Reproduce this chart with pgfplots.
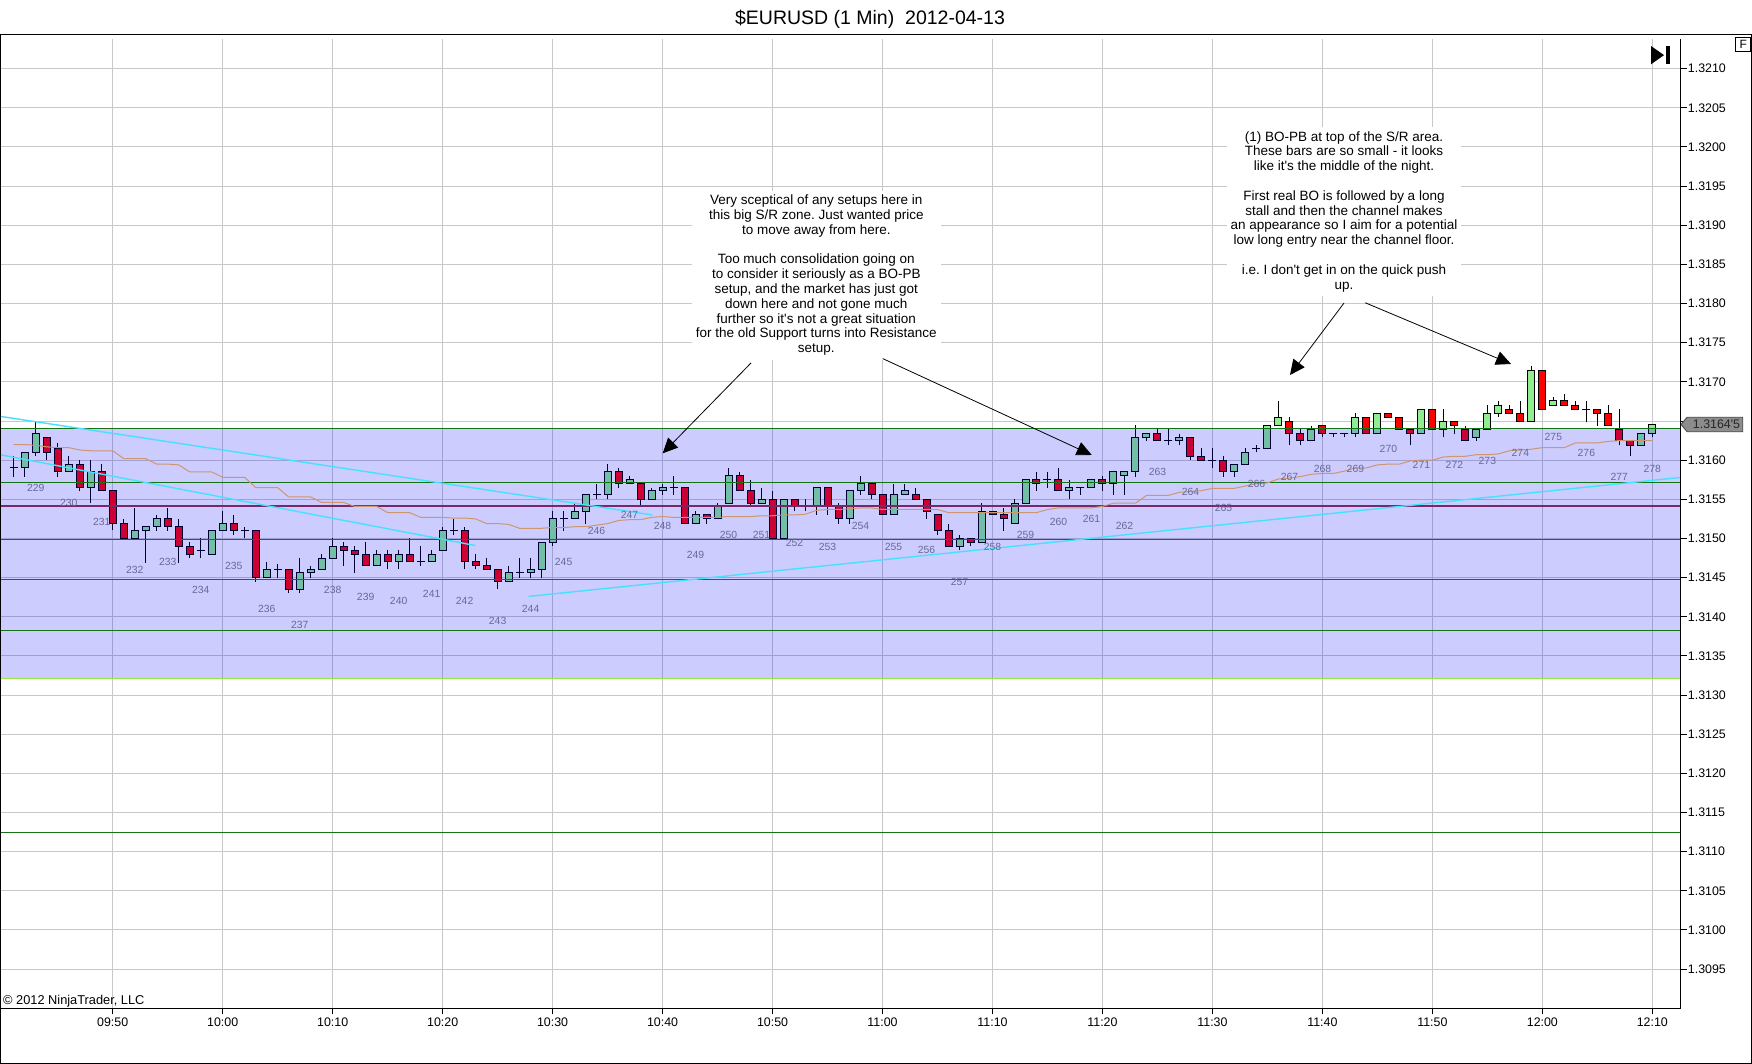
\documentclass[border=0pt]{standalone}
\usepackage{pgfplots}
\pgfplotsset{compat=1.18}
\usepackage{pgfplotstable}
\usepackage{fontspec}
\setmainfont{Liberation Sans}
\usetikzlibrary{arrows.meta}
\frenchspacing

\definecolor{gridc}{RGB}{200,200,200}
\definecolor{upc}{RGB}{144,238,144}
\definecolor{dnc}{RGB}{255,0,0}
\definecolor{bandc}{RGB}{0,0,255}
\definecolor{srline}{RGB}{20,115,20}
\definecolor{bandlow}{RGB}{150,230,70}
\definecolor{purp}{RGB}{120,40,105}
\definecolor{mac}{RGB}{205,150,110}
\definecolor{cyanl}{RGB}{70,225,255}
\definecolor{labc}{RGB}{105,105,150}
\definecolor{markc}{RGB}{140,140,140}

\pgfplotstableread{
t o h l c
-9 1.31590 1.31605 1.31579 1.31590
-8 1.31590 1.31610 1.31579 1.31610
-7 1.31610 1.31649 1.31605 1.31634
-6 1.31629 1.31629 1.31600 1.31610
-5 1.31615 1.31622 1.31579 1.31585
-4 1.31585 1.31605 1.31585 1.31595
-3 1.31595 1.31600 1.31560 1.31565
-2 1.31565 1.31600 1.31545 1.31585
-1 1.31585 1.31595 1.31561 1.31561
0 1.31561 1.31561 1.31511 1.31519
1 1.31519 1.31525 1.31500 1.31500
2 1.31500 1.31539 1.31500 1.31510
3 1.31510 1.31515 1.31469 1.31515
4 1.31515 1.31530 1.31510 1.31525
5 1.31525 1.31539 1.31510 1.31515
6 1.31515 1.31525 1.31469 1.31490
7 1.31490 1.31495 1.31475 1.31480
8 1.31485 1.31500 1.31475 1.31485
9 1.31480 1.31510 1.31480 1.31510
10 1.31510 1.31535 1.31510 1.31519
11 1.31519 1.31530 1.31505 1.31510
12 1.31510 1.31515 1.31500 1.31510
13 1.31510 1.31510 1.31445 1.31450
14 1.31450 1.31470 1.31450 1.31461
15 1.31461 1.31467 1.31450 1.31461
16 1.31461 1.31461 1.31430 1.31435
17 1.31435 1.31475 1.31430 1.31456
18 1.31456 1.31465 1.31450 1.31461
19 1.31461 1.31480 1.31461 1.31475
20 1.31475 1.31500 1.31475 1.31490
21 1.31490 1.31495 1.31465 1.31485
22 1.31485 1.31490 1.31456 1.31480
23 1.31480 1.31495 1.31465 1.31465
24 1.31465 1.31485 1.31465 1.31480
25 1.31480 1.31485 1.31461 1.31470
26 1.31470 1.31485 1.31461 1.31480
27 1.31480 1.31500 1.31470 1.31470
28 1.31470 1.31490 1.31465 1.31470
29 1.31470 1.31485 1.31470 1.31480
30 1.31485 1.31515 1.31485 1.31510
31 1.31510 1.31525 1.31505 1.31510
32 1.31510 1.31515 1.31461 1.31470
33 1.31470 1.31480 1.31461 1.31465
34 1.31465 1.31475 1.31461 1.31461
35 1.31461 1.31461 1.31435 1.31445
36 1.31445 1.31465 1.31445 1.31456
37 1.31456 1.31475 1.31450 1.31456
38 1.31456 1.31475 1.31450 1.31461
39 1.31461 1.31495 1.31450 1.31495
40 1.31495 1.31535 1.31490 1.31525
41 1.31525 1.31535 1.31510 1.31525
42 1.31525 1.31545 1.31525 1.31535
43 1.31535 1.31556 1.31519 1.31556
44 1.31556 1.31570 1.31550 1.31556
45 1.31556 1.31595 1.31550 1.31585
46 1.31585 1.31590 1.31565 1.31570
47 1.31570 1.31580 1.31570 1.31575
48 1.31570 1.31570 1.31542 1.31550
49 1.31550 1.31565 1.31550 1.31561
50 1.31561 1.31570 1.31556 1.31565
51 1.31565 1.31580 1.31556 1.31565
52 1.31565 1.31565 1.31519 1.31519
53 1.31519 1.31535 1.31519 1.31530
54 1.31530 1.31530 1.31519 1.31525
55 1.31525 1.31545 1.31525 1.31541
56 1.31545 1.31590 1.31545 1.31580
57 1.31580 1.31585 1.31561 1.31561
58 1.31561 1.31575 1.31542 1.31545
59 1.31545 1.31565 1.31545 1.31550
60 1.31550 1.31561 1.31500 1.31500
61 1.31500 1.31550 1.31500 1.31550
62 1.31550 1.31550 1.31535 1.31541
63 1.31541 1.31550 1.31535 1.31541
64 1.31541 1.31565 1.31530 1.31565
65 1.31565 1.31565 1.31530 1.31541
66 1.31541 1.31545 1.31519 1.31525
67 1.31525 1.31561 1.31519 1.31561
68 1.31561 1.31580 1.31556 1.31570
69 1.31570 1.31570 1.31550 1.31556
70 1.31556 1.31556 1.31530 1.31530
71 1.31530 1.31570 1.31530 1.31556
72 1.31556 1.31570 1.31556 1.31561
73 1.31556 1.31565 1.31550 1.31550
74 1.31550 1.31550 1.31525 1.31535
75 1.31530 1.31530 1.31505 1.31510
76 1.31510 1.31519 1.31490 1.31490
77 1.31490 1.31505 1.31485 1.31500
78 1.31500 1.31500 1.31490 1.31495
79 1.31495 1.31545 1.31495 1.31535
80 1.31535 1.31535 1.31530 1.31530
81 1.31530 1.31539 1.31510 1.31525
82 1.31519 1.31550 1.31519 1.31545
83 1.31545 1.31575 1.31545 1.31575
84 1.31575 1.31585 1.31561 1.31570
85 1.31575 1.31585 1.31565 1.31575
86 1.31575 1.31590 1.31561 1.31561
87 1.31561 1.31575 1.31550 1.31565
88 1.31565 1.31565 1.31556 1.31565
89 1.31565 1.31575 1.31565 1.31575
90 1.31575 1.31580 1.31561 1.31570
91 1.31570 1.31585 1.31556 1.31585
92 1.31580 1.31585 1.31556 1.31585
93 1.31585 1.31645 1.31579 1.31629
94 1.31629 1.31634 1.31625 1.31634
95 1.31634 1.31641 1.31625 1.31625
96 1.31625 1.31641 1.31619 1.31625
97 1.31625 1.31634 1.31619 1.31629
98 1.31629 1.31629 1.31600 1.31605
99 1.31605 1.31615 1.31600 1.31600
100 1.31600 1.31615 1.31590 1.31600
101 1.31600 1.31605 1.31579 1.31585
102 1.31585 1.31595 1.31579 1.31595
103 1.31595 1.31615 1.31595 1.31610
104 1.31615 1.31619 1.31610 1.31615
105 1.31615 1.31644 1.31615 1.31644
106 1.31644 1.31676 1.31644 1.31655
107 1.31649 1.31655 1.31619 1.31634
108 1.31634 1.31641 1.31619 1.31625
109 1.31625 1.31644 1.31625 1.31639
110 1.31644 1.31644 1.31629 1.31634
111 1.31634 1.31634 1.31629 1.31634
112 1.31634 1.31634 1.31629 1.31634
113 1.31634 1.31660 1.31629 1.31655
114 1.31655 1.31655 1.31634 1.31634
115 1.31634 1.31660 1.31634 1.31660
116 1.31660 1.31660 1.31655 1.31655
117 1.31655 1.31655 1.31639 1.31639
118 1.31639 1.31639 1.31619 1.31634
119 1.31634 1.31665 1.31634 1.31665
120 1.31665 1.31665 1.31639 1.31639
121 1.31639 1.31665 1.31629 1.31649
122 1.31649 1.31649 1.31634 1.31644
123 1.31639 1.31644 1.31625 1.31625
124 1.31629 1.31639 1.31625 1.31639
125 1.31639 1.31670 1.31639 1.31660
126 1.31660 1.31676 1.31655 1.31670
127 1.31665 1.31670 1.31660 1.31660
128 1.31660 1.31676 1.31649 1.31649
129 1.31649 1.31720 1.31649 1.31714
130 1.31714 1.31714 1.31665 1.31665
131 1.31670 1.31681 1.31670 1.31676
132 1.31676 1.31685 1.31670 1.31670
133 1.31670 1.31676 1.31665 1.31665
134 1.31665 1.31676 1.31649 1.31665
135 1.31665 1.31665 1.31644 1.31660
136 1.31660 1.31670 1.31644 1.31644
137 1.31639 1.31665 1.31619 1.31625
138 1.31625 1.31625 1.31605 1.31619
139 1.31619 1.31634 1.31619 1.31634
140 1.31634 1.31645 1.31629 1.31645
}\candles

\pgfplotstableread{
t y n
-7 1.31605 229
-4 1.31585 230
-1 1.31561 231
2 1.31500 232
5 1.31510 233
8 1.31475 234
11 1.31505 235
14 1.31450 236
17 1.31430 237
20 1.31475 238
23 1.31465 239
26 1.31461 240
29 1.31470 241
32 1.31461 242
35 1.31435 243
38 1.31450 244
41 1.31510 245
44 1.31550 246
47 1.31570 247
50 1.31556 248
53 1.31519 249
56 1.31545 250
59 1.31545 251
62 1.31535 252
65 1.31530 253
68 1.31556 254
71 1.31530 255
74 1.31525 256
77 1.31485 257
80 1.31530 258
83 1.31545 259
86 1.31561 260
89 1.31565 261
92 1.31556 262
95 1.31625 263
98 1.31600 264
101 1.31579 265
104 1.31610 266
107 1.31619 267
110 1.31629 268
113 1.31629 269
116 1.31655 270
119 1.31634 271
122 1.31634 272
125 1.31639 273
128 1.31649 274
131 1.31670 275
134 1.31649 276
137 1.31619 277
140 1.31629 278
}\barlabels

\pgfplotstableread{
t m
-9 1.31620
-8 1.31620
-7 1.31619
-6 1.31617
-5 1.31616
-4 1.31616
-3 1.31613
-2 1.31612
-1 1.31612
0 1.31612
1 1.31602
2 1.31602
3 1.31602
4 1.31595
5 1.31595
6 1.31594
7 1.31585
8 1.31585
9 1.31585
10 1.31578
11 1.31578
12 1.31578
13 1.31565
14 1.31565
15 1.31565
16 1.31553
17 1.31553
18 1.31553
19 1.31546
20 1.31546
21 1.31546
22 1.31541
23 1.31541
24 1.31541
25 1.31533
26 1.31533
27 1.31533
28 1.31527
29 1.31527
30 1.31527
31 1.31526
32 1.31526
33 1.31525
34 1.31519
35 1.31519
36 1.31518
37 1.31513
38 1.31513
39 1.31513
40 1.31514
41 1.31514
42 1.31515
43 1.31515
44 1.31517
45 1.31519
46 1.31523
47 1.31524
48 1.31524
49 1.31527
50 1.31528
51 1.31527
52 1.31527
53 1.31527
54 1.31527
55 1.31527
56 1.31528
57 1.31528
58 1.31528
59 1.31529
60 1.31529
61 1.31530
62 1.31530
63 1.31531
64 1.31536
65 1.31537
66 1.31537
67 1.31538
68 1.31539
69 1.31539
70 1.31537
71 1.31537
72 1.31537
73 1.31537
74 1.31537
75 1.31537
76 1.31533
77 1.31533
78 1.31533
79 1.31533
80 1.31533
81 1.31533
82 1.31533
83 1.31533
84 1.31533
85 1.31537
86 1.31539
87 1.31539
88 1.31539
89 1.31539
90 1.31541
91 1.31545
92 1.31545
93 1.31545
94 1.31555
95 1.31555
96 1.31555
97 1.31559
98 1.31560
99 1.31561
100 1.31564
101 1.31564
102 1.31564
103 1.31567
104 1.31570
105 1.31571
106 1.31576
107 1.31577
108 1.31579
109 1.31582
110 1.31583
111 1.31583
112 1.31586
113 1.31590
114 1.31590
115 1.31594
116 1.31595
117 1.31595
118 1.31599
119 1.31600
120 1.31600
121 1.31604
122 1.31605
123 1.31605
124 1.31607
125 1.31607
126 1.31608
127 1.31612
128 1.31613
129 1.31614
130 1.31616
131 1.31616
132 1.31616
133 1.31622
134 1.31622
135 1.31622
136 1.31624
137 1.31625
138 1.31625
139 1.31625
140 1.31625
}\mavg

\begin{document}
\begin{tikzpicture}
\useasboundingbox (0pt,0pt) rectangle (1752pt,1064pt);
\fill[white] (0pt,0pt) rectangle (1752pt,1064pt);
\begin{axis}[
  at={(0pt,55.7pt)}, anchor=south west,
  width=1680.7pt, height=969pt, scale only axis,
  xmin=-10.25, xmax=142.58, ymin=1.309, ymax=1.321375,
  axis line style={draw=none},
  xtick={0,10,20,30,40,50,60,70,80,90,100,110,120,130,140},
  xticklabels={09:50,10:00,10:10,10:20,10:30,10:40,10:50,11:00,11:10,11:20,11:30,11:40,11:50,12:00,12:10},
  ytick={1.3095,1.3100,1.3105,1.3110,1.3115,1.3120,1.3125,1.3130,1.3135,1.3140,1.3145,1.3150,1.3155,1.3160,1.3165,1.3170,1.3175,1.3180,1.3185,1.3190,1.3195,1.3200,1.3205,1.3210},
  yticklabels={1.3095,1.3100,1.3105,1.3110,1.3115,1.3120,1.3125,1.3130,1.3135,1.3140,1.3145,1.3150,1.3155,1.3160,{},1.3170,1.3175,1.3180,1.3185,1.3190,1.3195,1.3200,1.3205,1.3210},
  xtick pos=left, ytick pos=right, yticklabel pos=right,
  tick align=outside, major tick length=6pt,
  tick style={black, line width=1pt},
  xmajorgrids, ymajorgrids,
  grid style={gridc, line width=1pt},
  tick label style={font=\fontsize{12.4}{14}\selectfont},
  xticklabel style={anchor=center, yshift=-8pt, inner sep=0pt},
  yticklabel style={anchor=west, inner sep=0pt, xshift=1pt},
  clip mode=individual,
]
% wicks
\addplot[draw=none, mark=none, error bars/.cd, y dir=plus, y explicit, error mark=none,
  error bar style={draw=black, line width=1pt}]
  table[x=t, y=l, y error expr={\thisrow{h}-\thisrow{l}}] {\candles};
% body outline
\addplot[draw=none, mark=none, error bars/.cd, y dir=plus, y explicit, error mark=none,
  error bar style={draw=black, line width=8pt}]
  table[x=t, y expr={min(\thisrow{o},\thisrow{c})}, y error expr={abs(\thisrow{c}-\thisrow{o})}] {\candles};
% up bodies
\addplot[draw=none, mark=none, error bars/.cd, y dir=plus, y explicit, error mark=none,
  error bar style={draw=upc, line width=6pt}]
  table[x=t, y=o, y error expr={max(\thisrow{c}-\thisrow{o},0)}] {\candles};
% down bodies
\addplot[draw=none, mark=none, error bars/.cd, y dir=plus, y explicit, error mark=none,
  error bar style={draw=dnc, line width=6pt}]
  table[x=t, y=c, y error expr={max(\thisrow{o}-\thisrow{c},0)}] {\candles};
% open / close edges (and doji bars)
\addplot[only marks, mark=-, mark size=4pt, mark options={draw=black, line width=1pt}]
  table[x=t, y=o] {\candles};
\addplot[only marks, mark=-, mark size=4pt, mark options={draw=black, line width=1pt}]
  table[x=t, y=c] {\candles};
% S/R band
\addplot[draw=none, fill=bandc, fill opacity=0.2]
  coordinates {(-12,1.31321) (145,1.31321) (145,1.31640) (-12,1.31640)};
% horizontal levels
\addplot[srline, line width=1pt] coordinates {(-12,1.31640) (145,1.31640)};
\addplot[srline, line width=1pt] coordinates {(-12,1.31572) (145,1.31572)};
\addplot[srline, line width=1pt] coordinates {(-12,1.31499) (145,1.31499)};
\addplot[srline, line width=1pt] coordinates {(-12,1.31448) (145,1.31448)};
\addplot[srline, line width=1pt] coordinates {(-12,1.31383) (145,1.31383)};
\addplot[srline, line width=1pt] coordinates {(-12,1.31125) (145,1.31125)};
\addplot[bandlow, line width=1pt] coordinates {(-12,1.31321) (145,1.31321)};
\addplot[purp, line width=2pt] coordinates {(-12,1.31541) (145,1.31541)};
% moving average
\addplot[mac, line width=1pt] table[x=t, y=m] {\mavg};
% trend lines
\addplot[cyanl, line width=1.4pt] coordinates {(-10.25,1.31656) (49.07,1.31530)};
\addplot[cyanl, line width=1.4pt] coordinates {(-10.25,1.31607) (32.97,1.31491)};
\addplot[cyanl, line width=1.4pt] coordinates {(37.82,1.31426) (142.58,1.31578)};
% bar numbers
\addplot[draw=none, mark=none, nodes near coords, point meta=explicit symbolic,
  nodes near coords style={font=\fontsize{10.4}{12}\selectfont, text=labc, anchor=center, yshift=-31.5pt, inner sep=0pt}]
  table[x=t, y=y, meta=n] {\barlabels};
\end{axis}
% axis lines and frame
\draw[line width=1pt] (0pt,55.7pt) -- (1680.7pt,55.7pt);
\draw[line width=1pt] (1680.7pt,55.7pt) -- (1680.7pt,1024.7pt);
\draw[line width=1pt] (0.5pt,0.5pt) rectangle (1751.5pt,1029.7pt);
% title
\node[anchor=base, font=\fontsize{19.5}{22}\selectfont] at (870pt,1039.7pt) {\$EURUSD (1 Min)\ \ 2012-04-13};
% copyright
\node[anchor=base west, inner sep=0pt, font=\fontsize{12.8}{14}\selectfont] at (3pt,59pt) {© 2012 NinjaTrader, LLC};
% F box and end icon
\draw[line width=1pt] (1735.7pt,1026.7pt) rectangle (1750.7pt,1012.3pt);
\node[font=\fontsize{12}{14}\selectfont, inner sep=0pt] at (1743.2pt,1019.5pt) {F};
\fill (1651pt,1018pt) -- (1651pt,999.7pt) -- (1664pt,1008.85pt) -- cycle;
\fill (1666pt,999.7pt) rectangle (1670pt,1018pt);
% last price marker
\filldraw[fill=markc, draw=black!75, line width=0.8pt] (1681pt,639.5pt) -- (1687pt,646.7pt) -- (1742.7pt,646.7pt) -- (1742.7pt,632.3pt) -- (1687pt,632.3pt) -- cycle;
\node[font=\fontsize{12.4}{14}\selectfont, text=black!85, inner sep=0pt] at (1716.5pt,639.5pt) {1.3164\textquotesingle 5};
% annotations
\node[fill=white, inner sep=4pt, align=center, font=\fontsize{13.5}{14.8}\selectfont] at (816.3pt,788.7pt)
 {Very sceptical of any setups here in\\this big S/R zone. Just wanted price\\to move away from here.\\[14.8pt]Too much consolidation going on\\to consider it seriously as a BO-PB\\setup, and the market has just got\\down here and not gone much\\further so it\textquotesingle s not a great situation\\for the old Support turns into Resistance\\setup.};
\node[fill=white, inner sep=4pt, align=center, font=\fontsize{13.5}{14.8}\selectfont] at (1344pt,852.3pt)
 {(1) BO-PB at top of the S/R area.\\These bars are so small - it looks\\like it\textquotesingle s the middle of the night.\\[14.8pt]First real BO is followed by a long\\stall and then the channel makes\\an appearance so I aim for a potential\\low long entry near the channel floor.\\[14.8pt]i.e. I don\textquotesingle t get in on the quick push\\up.};
% arrows
\draw[-{Triangle[length=15pt,width=14pt]}, line width=0.8pt] (751pt,701pt) -- (662.7pt,610.7pt);
\draw[-{Triangle[length=15pt,width=14pt]}, line width=0.8pt] (882.7pt,705.4pt) -- (1091.7pt,609pt);
\draw[-{Triangle[length=15pt,width=14pt]}, line width=0.8pt] (1344pt,761pt) -- (1290pt,689pt);
\draw[-{Triangle[length=15pt,width=14pt]}, line width=0.8pt] (1365.3pt,761.2pt) -- (1511pt,700pt);
\end{tikzpicture}
\end{document}
